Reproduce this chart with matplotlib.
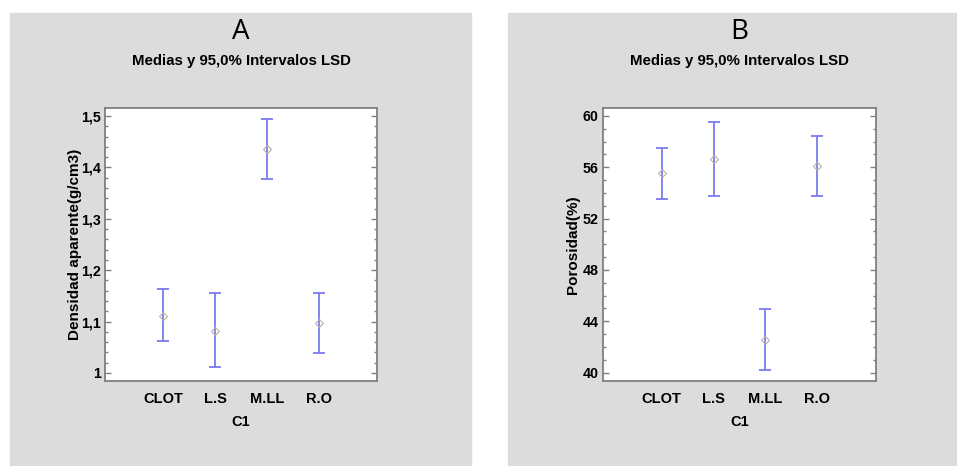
import matplotlib.pyplot as plt
from matplotlib.patches import Rectangle
from matplotlib.ticker import MultipleLocator, FuncFormatter

categories = ['CLOT', 'L.S', 'M.LL', 'R.O']

dens_mean = [1.111, 1.082, 1.436, 1.098]
dens_low = [1.062, 1.011, 1.377, 1.039]
dens_high = [1.163, 1.155, 1.494, 1.156]

poro_mean = [55.53, 56.67, 42.54, 56.10]
poro_low = [53.50, 53.79, 40.20, 53.74]
poro_high = [57.53, 59.56, 44.93, 58.47]

plt.rcParams['font.family'] = ['Liberation Sans', 'DejaVu Sans']

fig = plt.figure(figsize=(9.57, 4.66), dpi=100)
W, H = 957, 466

# gray panel backgrounds
for x0, x1 in [(10, 471), (508, 957)]:
    fig.patches.append(Rectangle((x0 / W, 0), (x1 - x0) / W, (H - 13) / H,
                                 transform=fig.transFigure, color='#dcdcdc', zorder=-5))


def panel(left, right, means, lows, highs, ylim, major, minor, fmt, ylabel, letter):
    ax = fig.add_axes([left / W, (H - 381) / H, (right - left) / W, (381 - 108) / H])
    ax.set_facecolor('white')
    xs = list(range(1, len(categories) + 1))
    err = [[m - l for m, l in zip(means, lows)], [h - m for m, h in zip(means, highs)]]
    ax.errorbar(xs, means, yerr=err, fmt='none', ecolor='#7b7bf0', elinewidth=1.3,
                capsize=4, capthick=1.3)
    ax.plot(xs, means, 'D', markersize=4, markerfacecolor='none',
            markeredgecolor='#b4b4a4', markeredgewidth=0.8)
    ax.set_xlim(-0.13, 5.13)
    ax.set_ylim(*ylim)
    ax.set_xticks(xs)
    ax.set_xticklabels(categories, fontsize=10.5, fontweight='bold')
    ax.yaxis.set_major_locator(MultipleLocator(major))
    ax.yaxis.set_minor_locator(MultipleLocator(minor))
    ax.yaxis.set_major_formatter(FuncFormatter(fmt))
    for lab in ax.get_yticklabels():
        lab.set_fontweight('bold')
        lab.set_fontsize(10.3)
    ax.tick_params(axis='x', length=0, pad=8)
    ax.tick_params(axis='y', which='major', direction='in', length=4, width=1,
                   color='#808080', right=True, pad=3)
    ax.tick_params(axis='y', which='minor', direction='in', length=2, width=1,
                   color='#808080', right=True)
    for s in ax.spines.values():
        s.set_color('#808080')
        s.set_linewidth(1.3)
    ax.set_ylabel(ylabel, fontsize=11, fontweight='bold')
    ax.yaxis.set_label_coords(-23 / (right - left), 0.5)
    ax.set_xlabel('C1', fontsize=10.5, fontweight='bold')
    ax.xaxis.set_label_coords(0.5, -0.125)
    cx = (left + right) / 2 / W
    fig.text(cx, 1 - 32 / H, letter, ha='center', va='center', fontsize=20,
             family=['Open Sans', 'DejaVu Sans'])
    fig.text(cx, 1 - 61 / H, 'Medias y 95,0% Intervalos LSD', ha='center', va='center',
             fontsize=10.8, fontweight='bold')
    return ax


panel(105, 377, dens_mean, dens_low, dens_high, (0.9844, 1.5156), 0.1, 0.02,
      lambda v, p: ('%g' % round(v, 2)).replace('.', ','), 'Densidad aparente(g/cm3)', 'A')
panel(603, 876, poro_mean, poro_low, poro_high, (39.35, 60.62), 4, 1,
      lambda v, p: '%d' % round(v), 'Porosidad(%)', 'B')

fig.savefig('out.png', dpi=100)
